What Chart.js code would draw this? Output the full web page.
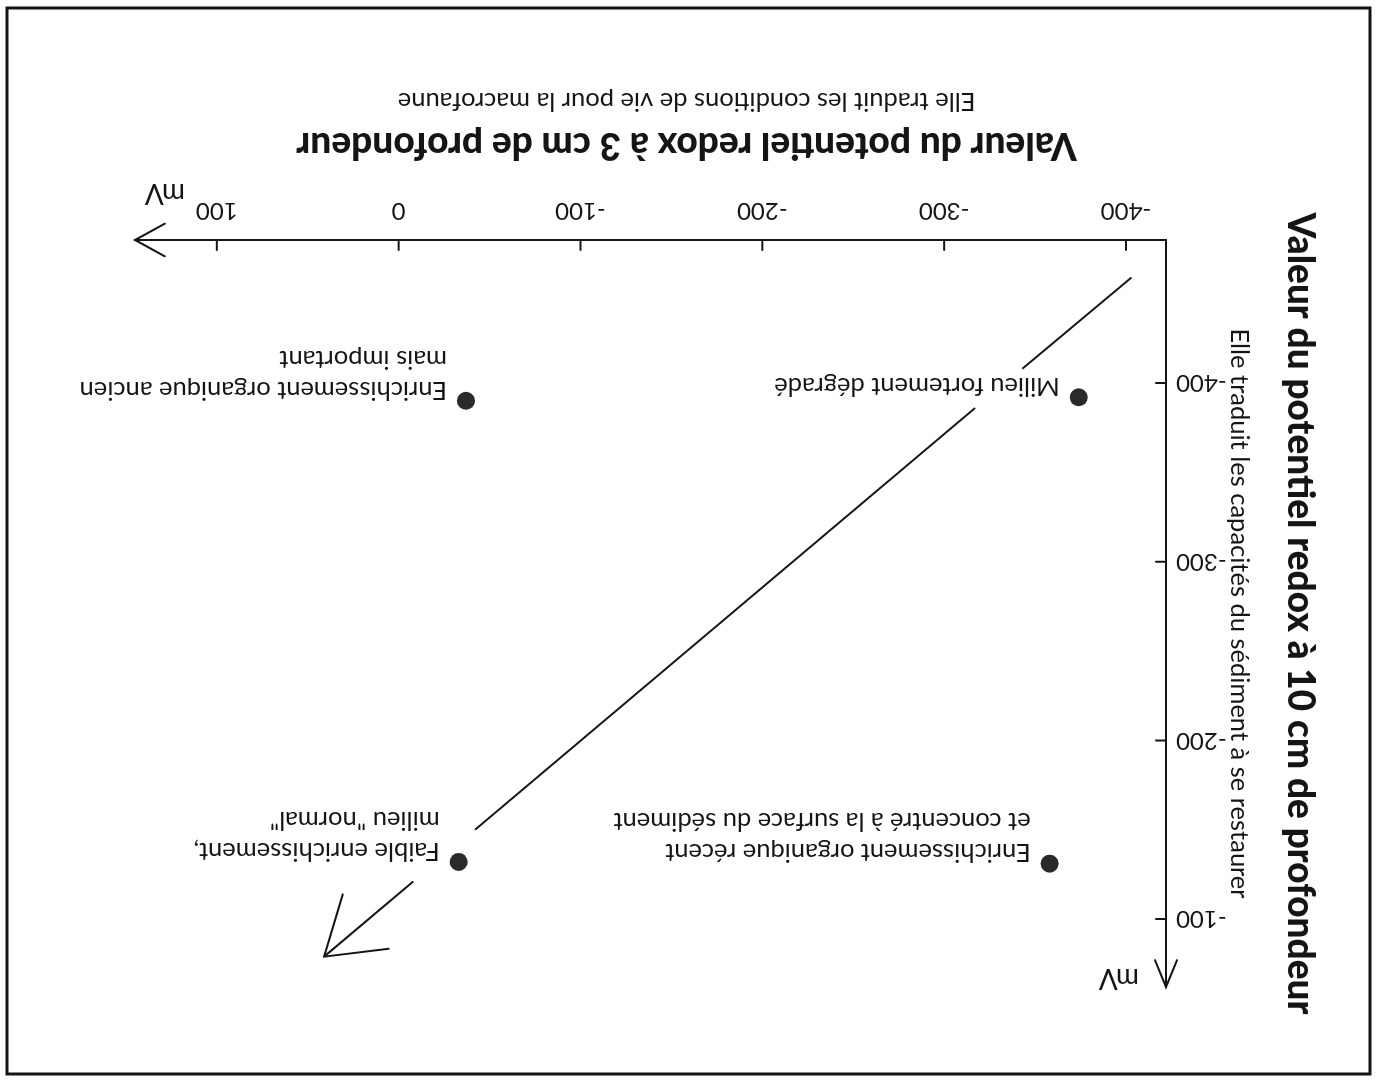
<!DOCTYPE html>
<html lang="fr">
<head>
<meta charset="utf-8">
<title>Potentiel redox des sédiments</title>
<script src="https://cdn.jsdelivr.net/npm/chart.js@4.4.1/dist/chart.umd.min.js"></script>
<style>
  html, body { margin: 0; padding: 0; background: #fff; overflow: hidden; }
  /* the scanned figure is upside down, so the whole drawing is turned */
  #wrap { width: 1378px; height: 1084px; transform: rotate(180deg); }
  canvas { display: block; }
</style>
</head>
<body>
<div id="wrap"><canvas id="chart" width="1378" height="1084"></canvas></div>
<script>
// --- Data ---
const xTicks = [-400, -300, -200, -100, 0, 100];
const yTicks = [-400, -300, -200, -100];

const pointX = [-374, -37, -358, -33];
const pointY = [-392, -390, -131, -132];
const pointLabels = [
  ['Milieu fortement dégradé'],
  ['Enrichissement organique ancien', 'mais important'],
  ['Enrichissement organique récent', 'et concentré à la surface du sédiment'],
  ['Faible enrichissement,', 'milieu "normal"']
];

// diagonal arrow, broken where it crosses two labels
const trendX = [-403, -343, -317, -42, -8, 41];
const trendY = [-459, -408, -386, -150, -121, -79];

const xTitle = 'Valeur du potentiel redox à 3 cm de profondeur';
const xSubtitle = 'Elle traduit les conditions de vie pour la macrofaune';
const yTitle = 'Valeur du potentiel redox à 10 cm de profondeur';
const ySubtitle = 'Elle traduit les capacités du sédiment à se restaurer';
const unitLabel = 'mV';

// --- Styles ---
const ink = '#151515';
const dotColor = '#2a2a2a';
const family = 'Lato, "DejaVu Sans", sans-serif';

function strokeLine(ctx, x1, y1, x2, y2) {
  ctx.beginPath();
  ctx.moveTo(x1, y1);
  ctx.lineTo(x2, y2);
  ctx.stroke();
}

// open arrow head, two strokes back from the tip
function arrowHead(ctx, tipX, tipY, fromX, fromY, len, spread) {
  const a = Math.atan2(fromY - tipY, fromX - tipX);
  ctx.beginPath();
  ctx.moveTo(tipX + len * Math.cos(a + spread), tipY + len * Math.sin(a + spread));
  ctx.lineTo(tipX, tipY);
  ctx.lineTo(tipX + len * Math.cos(a - spread), tipY + len * Math.sin(a - spread));
  ctx.stroke();
}

const decor = {
  id: 'decor',
  afterDraw(chart) {
    const { ctx, chartArea: area, scales: { x, y } } = chart;
    ctx.save();
    ctx.strokeStyle = ink;
    ctx.fillStyle = ink;
    ctx.lineCap = 'round';

    // frame round the figure
    ctx.lineWidth = 3;
    ctx.strokeRect(8, 10, 1363, 1066);

    // axis arrows
    ctx.lineWidth = 2;
    arrowHead(ctx, area.right, area.bottom, area.right - 10, area.bottom, 34, 0.5);
    arrowHead(ctx, area.left, area.top, area.left, area.top + 10, 29, 0.39);

    // tick marks point into the plot
    xTicks.forEach(v => {
      const px = x.getPixelForValue(v);
      strokeLine(ctx, px, area.bottom, px, area.bottom - 10);
    });
    yTicks.forEach(v => {
      const py = y.getPixelForValue(v);
      strokeLine(ctx, area.left, py, area.left + 10, py);
    });

    // head of the diagonal arrow
    const n = trendX.length;
    arrowHead(ctx,
      x.getPixelForValue(trendX[n - 1]), y.getPixelForValue(trendY[n - 1]),
      x.getPixelForValue(trendX[n - 2]), y.getPixelForValue(trendY[n - 2]),
      65, 0.58);

    // point labels
    ctx.font = '25.5px ' + family;
    ctx.textAlign = 'left';
    ctx.textBaseline = 'middle';
    chart.getDatasetMeta(0).data.forEach((pt, i) => {
      pointLabels[i].forEach((line, k) => {
        ctx.fillText(line, pt.x + 19, pt.y + 11 + k * 31);
      });
    });

    // units at the arrow ends
    ctx.font = '28px ' + family;
    ctx.fillText(unitLabel, area.right - 50, area.bottom + 47);
    ctx.fillText(unitLabel, area.left + 27, area.top + 9);

    // x axis titles
    const cx = area.left + (area.right - area.left) * 0.465;
    ctx.textAlign = 'center';
    ctx.textBaseline = 'alphabetic';
    ctx.font = '900 37px ' + family;
    ctx.fillText(xTitle, cx, area.bottom + 107);
    ctx.font = '25.5px ' + family;
    ctx.fillText(xSubtitle, cx, area.bottom + 147);

    // y axis titles
    const cy = (area.top + area.bottom) / 2;
    ctx.save();
    ctx.translate(area.left - 122, cy);
    ctx.rotate(-Math.PI / 2);
    ctx.font = '900 37px ' + family;
    ctx.fillText(yTitle, 0, 0);
    ctx.restore();
    ctx.save();
    ctx.translate(area.left - 65, cy);
    ctx.rotate(-Math.PI / 2);
    ctx.font = '25.5px ' + family;
    ctx.fillText(ySubtitle, 0, 0);
    ctx.restore();

    ctx.restore();
  }
};

const points = pointX.map((v, i) => ({ x: v, y: pointY[i] }));
const trend = trendX.map((v, i) => ({ x: v, y: trendY[i] }));

new Chart(document.getElementById('chart'), {
  type: 'scatter',
  data: {
    datasets: [
      {
        data: points,
        pointRadius: 9,
        pointHoverRadius: 9,
        backgroundColor: dotColor,
        borderWidth: 0
      },
      {
        data: trend,
        showLine: true,
        pointRadius: 0,
        borderColor: ink,
        borderWidth: 2,
        segment: {
          // gaps where the line passes behind two labels
          borderColor: c => (c.p0DataIndex === 1 || c.p0DataIndex === 3) ? 'rgba(0,0,0,0)' : ink
        }
      }
    ]
  },
  options: {
    responsive: false,
    animation: false,
    devicePixelRatio: 1,
    layout: { padding: { left: 10, right: 135, top: 97, bottom: 10 } },
    plugins: {
      legend: { display: false },
      tooltip: { enabled: false }
    },
    scales: {
      x: {
        type: 'linear',
        min: -422,
        max: 145,
        grid: { display: false, drawTicks: false },
        border: { display: true, color: ink, width: 2 },
        ticks: { color: ink, padding: 15, font: { family: family, size: 24 } },
        afterBuildTicks: s => { s.ticks = xTicks.map(v => ({ value: v })); },
        afterFit: s => { s.height = 230; }
      },
      y: {
        type: 'linear',
        min: -480,
        max: -62,
        grid: { display: false, drawTicks: false },
        border: { display: true, color: ink, width: 2 },
        ticks: { color: ink, padding: 10, font: { family: family, size: 24 } },
        afterBuildTicks: s => { s.ticks = yTicks.map(v => ({ value: v })); },
        afterFit: s => { s.width = 202; }
      }
    }
  },
  plugins: [decor]
});
</script>
</body>
</html>
